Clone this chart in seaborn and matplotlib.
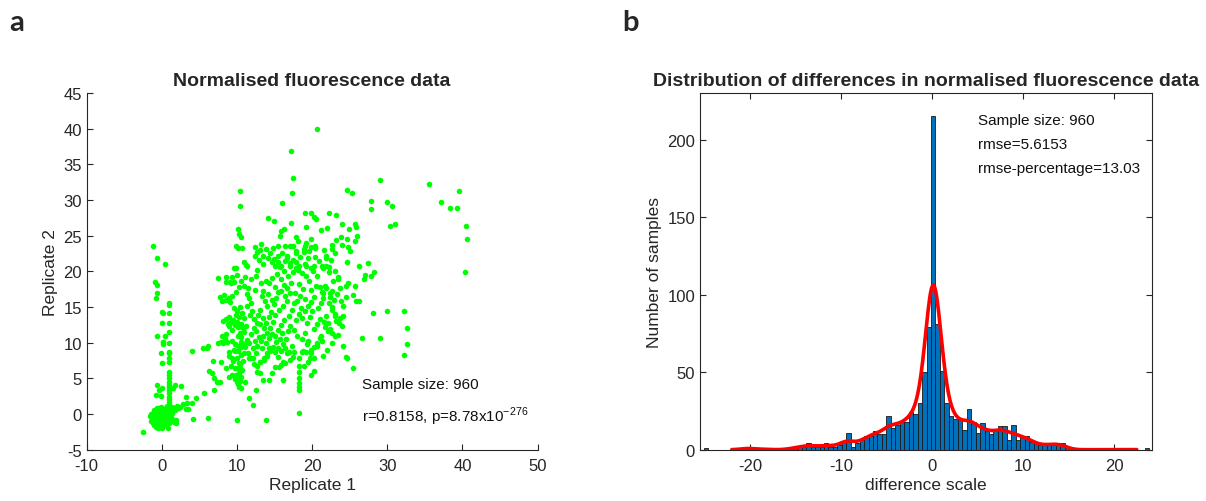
import numpy as np
import pandas as pd
import matplotlib
matplotlib.use('Agg')
import matplotlib.pyplot as plt
import seaborn as sns

# %% Data
# panel a: replicate 1 vs replicate 2
rep1 = [
    # outliers / upper part
    20.6, 17.2, 17.4, 17.3, 10.4, 10.4, 16.0, 29.1, 35.6, 39.6, 37.2, 38.3, 39.3, 40.5, 40.6, 40.3,
    24.7, 25.3, 27.9, 27.9, 30.0, 30.6, 30.4, 31.0, 19.0, 19.8, 20.2, 20.5, 22.3, 23.2, 14.1, 14.9,
    17.2, 16.2, 15.8, 19.2, 21.2, 22.0, 24.0, 25.7, 25.8, 24.9, 26.0, 23.9, 24.6, 25.7, 10.2, 10.3,
    10.6, 15.7, 17.9, 18.1, 19.2, 19.8, 20.4, 19.9, 19.1, 22.6, 23.2, 24.0, 24.8, 25.1, 24.7, 22.7,
    23.1, 21.8, 20.4, 18.9, 17.8, 17.1, 17.5, 16.4, 15.5, 14.8, 13.2, 13.1, 12.4, 12.6, 13.5, 9.9,
    10.2, 10.7, 11.0, 11.2, 9.9, 10.0, 9.3, 8.5, 7.5, 9.6, 9.1, 9.6, 12.4, 14.1, 14.7, 15.4,
    15.0, 15.9, 16.4, 16.7, 17.1, 17.9, 18.3, 19.2, 19.8, 20.3, 21.3, 21.9, 22.2, 23.5, 24.5, 24.8,
    26.3, 27.1, 26.9, 27.8, 28.3, 27.4, 25.7, 25.5, 25.9, 26.3, 24.5, 24.1, 28.1, 30.0, 32.2, 32.6,
    32.6, 32.2, 29.1, 26.6, 25.5, 24.5, 24.6, 24.1, 22.7, 23.7, 24.1, 23.2, 23.1, 22.7, 22.2, 22.4,
    22.7, 21.9, 21.7, 21.3, 21.5, 21.9, 21.6, 22.1, 22.7, 23.1, 21.2, 21.0, 20.7, 20.2, 19.9, 19.7,
    20.2, 20.2, 19.8, 19.2, 18.9, 18.7, 18.2, 18.2, 18.2, 18.2, 18.2, 18.2, 18.2, 18.3, 17.5, 17.6,
    16.9, 16.1, 16.1, 15.6, 15.0, 14.7, 14.3, 13.5, 13.1, 12.6, 12.5, 12.1, 11.6, 11.1, 10.3, 10.0,
    10.3, 9.9, 9.8, 10.4, 10.3, 10.0, 9.4, 9.0, 8.5, 8.9, 9.8, 10.1, 10.5, 11.1, 11.6, 12.1,
    12.5, 13.0, 13.6, 14.0, 14.3, 15.0, 15.4, 15.9, 16.4, 13.8, 10.0, 6.3, 7.0, 7.4, 7.8, 6.7,
    6.0, 6.2, 5.5, 6.8, 7.9, 4.0, 6.2, 4.2, 7.0, 5.6, 4.6, 4.0, 3.4, 3.2, 2.8, 2.6,
    1.8, 1.5, 2.0, 2.4, 3.2, 3.5, 1.9, 1.9,
    # dense cluster around x = 8-13
    9.2, 9.5, 9.0, 9.3, 8.8, 8.6, 9.7, 10.0, 10.2, 10.5, 10.8, 10.4, 10.1, 10.6, 10.9, 11.2,
    11.0, 10.3, 10.7, 10.0, 10.4, 9.6, 9.1, 8.9, 9.4, 8.6, 8.3, 8.0, 7.7, 9.9, 10.3, 10.9,
    11.3, 11.6, 11.9, 11.4, 12.0, 11.7, 12.3, 12.6, 12.2, 11.8, 12.5, 11.3, 11.0, 10.5, 10.2, 10.6,
    11.0, 10.8, 10.4, 10.1, 10.7, 10.3, 10.6, 10.0, 10.4, 10.2, 10.5, 9.7, 9.4, 9.2, 9.5, 9.0,
    9.6, 9.8, 9.3, 8.7, 8.2, 7.9, 7.5, 8.4, 8.0, 8.5, 8.1, 8.9, 9.9, 8.6, 9.2, 10.5,
    11.5, 12.4, 11.1, 11.8, 12.5, 11.3, 12.6,
    # dense cluster around x = 12-17
    12.8, 13.1, 13.4, 13.0, 13.6, 13.9, 14.2, 14.5, 14.0, 13.7, 13.3, 13.5, 14.1, 14.6, 14.9, 15.2,
    15.5, 15.0, 14.3, 13.8, 13.2, 14.7, 15.3, 15.8, 16.2, 15.9, 16.4, 16.7, 16.1, 15.6, 15.1, 14.8,
    14.4, 14.0, 13.5, 13.2, 12.9, 12.7, 13.3, 13.8, 14.2, 14.6, 15.0, 15.4, 15.8, 16.3, 16.0, 15.7,
    15.2, 14.8, 14.4, 14.0, 13.6, 13.1, 12.6, 12.2, 11.8, 11.5, 12.1, 11.6, 12.4, 15.5, 16.1, 16.5,
    16.8, 17.1, 16.9, 17.3, 17.6, 17.0, 16.6, 17.2, 16.8, 16.3, 15.7, 17.5, 17.8,
    # dense cluster around x = 17-24
    17.9, 18.2, 18.5, 18.0, 18.4, 18.8, 18.3, 17.7, 19.1, 19.4, 19.0, 18.7, 19.3, 19.7, 20.0, 19.8,
    20.3, 19.9, 20.5, 19.6, 19.2, 18.6, 18.1, 19.0, 19.5, 20.1, 20.6, 18.4, 17.8, 18.9, 19.6, 20.4,
    17.4, 17.0, 16.6, 16.0, 15.4, 14.9, 14.4, 13.9, 13.5, 12.9, 17.6, 18.0, 18.6, 19.1, 19.5, 20.2,
    20.6, 21.0, 20.8, 21.2, 21.5, 21.0, 20.9, 21.4, 21.8, 22.2, 21.6, 22.5, 23.0, 22.8, 23.4, 23.7,
    22.4, 22.9, 23.3, 23.8, 22.6, 23.1, 23.6, 22.1, 22.4, 21.7, 21.3, 20.7, 19.9, 19.3, 18.8, 17.3,
    16.7, 17.0, 16.4, 15.8, 19.5, 21.5, 22.0, 23.5, 24.0,
    # cluster near the origin
    -1.5, -1.3, -1.2, -1.0, -1.1, -0.9, -0.8, -0.7, -0.6, -0.5, -0.4, -0.3, -0.2, -0.1, 0.0, 0.0,
    0.1, 0.2, 0.3, 0.4, 0.5, 0.6, 0.7, 0.8, 0.9, 1.0, 1.1, 1.2, 1.3, 1.4, -1.4, -1.2,
    -0.9, -0.8, -0.6, -0.5, -0.4, -0.2, -0.1, 0.1, 0.2, 0.3, 0.4, 0.5, 0.6, 0.7, 0.8, 0.9,
    1.0, 1.1, -1.6, -1.0, -0.3, 0.0, 0.3, -0.7, 0.6, -0.2, 1.2, 0.9, -2.5, 1.6, 1.6, 0.8,
    -0.5, 1.5, 1.8, 2.2,
    # vertical strips at x ~ -1, 0 and 1
    0.9, 0.9, 0.9, 0.9, 0.9, 0.9, 0.9, 0.9, 0.9, 0.9, 0.9, 0.9, 0.9, 0.9, 0.9, 0.9,
    0.9, 0.9, 0.9, 0.9, 0.9, 0.0, 0.1, 0.0, 0.1, 0.0, 0.0, 0.2, -0.1, -1.2, -0.6, 0.4,
    -0.9, -0.6, -0.6, -0.8, -0.6, -0.1, -0.6, -0.8, -0.4, 0.45, 0.15,
]
rep2 = [
    # outliers / upper part
    40.0, 36.9, 33.1, 31.0, 31.2, 29.1, 29.6, 32.8, 32.2, 31.3, 29.7, 28.9, 28.9, 26.3, 24.5, 19.9,
    31.4, 31.0, 29.8, 28.8, 29.7, 29.2, 26.4, 26.7, 28.2, 28.2, 27.6, 27.4, 28.2, 27.9, 27.5, 27.0,
    26.8, 26.0, 25.7, 26.2, 25.8, 26.1, 26.7, 26.6, 26.2, 26.0, 24.9, 24.8, 24.6, 24.3, 26.0, 25.3,
    24.8, 24.9, 24.8, 24.3, 24.0, 24.5, 23.6, 23.4, 23.5, 23.7, 24.4, 23.7, 23.4, 22.9, 21.3, 23.2,
    22.6, 22.2, 22.0, 22.7, 22.6, 23.6, 23.6, 23.6, 23.6, 23.3, 23.9, 23.0, 23.4, 22.7, 22.2, 23.6,
    23.3, 23.3, 21.3, 20.9, 20.5, 19.5, 19.2, 19.2, 19.1, 18.5, 18.5, 20.5, 22.2, 21.8, 21.3, 21.3,
    20.8, 20.8, 21.5, 22.1, 21.2, 21.3, 20.8, 20.8, 20.4, 20.8, 20.8, 20.8, 19.9, 19.2, 18.0, 18.3,
    20.8, 19.5, 18.9, 19.3, 19.9, 21.1, 17.9, 16.7, 15.8, 15.8, 16.4, 15.2, 14.2, 14.4, 14.4, 12.1,
    9.8, 8.3, 10.6, 10.7, 6.4, 8.0, 7.8, 9.5, 9.9, 13.4, 13.8, 13.0, 14.0, 15.0, 15.5, 16.4,
    17.3, 17.6, 18.0, 17.1, 16.2, 13.8, 12.9, 11.7, 11.3, 11.0, 11.0, 10.6, 9.9, 9.4, 8.5, 7.8,
    7.8, 6.1, 5.4, 8.7, 6.8, 8.7, 7.8, 6.8, 5.9, 5.0, 4.3, 3.8, 3.3, 0.1, 8.0, 8.7,
    8.7, 7.3, 4.8, 6.6, 6.6, 5.7, 4.7, 4.7, 5.7, 5.9, 3.3, 1.2, 2.2, 4.5, 3.8, 4.5,
    5.0, 5.5, 6.4, 6.4, 7.2, 7.8, 7.8, 5.2, 6.4, 8.7, 8.9, 9.6, 10.1, 9.4, 7.8, 7.8,
    8.5, 7.3, 7.8, 8.5, 9.3, 8.7, 8.0, 8.9, 9.3, -0.9, -0.9, 6.0, 5.0, 4.5, 4.5, 5.7,
    9.2, 9.5, 9.2, 7.5, 7.3, 8.8, -0.6, -0.7, 3.3, 2.9, 2.2, 1.6, 1.5, 2.4, 1.4, 3.9,
    4.0, 3.6, 1.1, 1.0, 0.7, 0.7, -0.9, -1.3,
    # dense cluster around x = 8-13
    12.9, 13.2, 12.3, 11.8, 12.6, 11.2, 12.5, 12.9, 12.2, 12.6, 12.0, 11.4, 11.0, 10.8, 11.5, 12.4,
    13.4, 13.6, 14.1, 14.5, 15.0, 14.8, 15.7, 16.3, 16.6, 16.0, 16.7, 15.9, 16.4, 17.1, 17.8, 17.9,
    16.8, 16.2, 15.6, 15.1, 14.4, 13.9, 13.3, 12.7, 12.0, 11.2, 11.7, 10.4, 9.8, 9.4, 8.8, 8.3,
    8.6, 7.5, 7.0, 6.5, 6.2, 5.8, 5.2, 5.0, 4.6, 4.2, 3.7, 4.9, 5.4, 6.8, 7.4, 8.2,
    9.0, 9.8, 10.3, 10.1, 9.9, 10.1, 10.0, 10.6, 11.0, 13.3, 13.0, 13.6, 13.9, 18.5, 18.4, 18.6,
    17.6, 17.4, 19.2, 18.9, 19.3, 20.7, 20.2,
    # dense cluster around x = 12-17
    13.9, 14.6, 13.5, 12.6, 12.0, 12.8, 13.6, 14.3, 15.1, 15.9, 16.5, 17.3, 16.8, 16.0, 15.4, 16.3,
    17.1, 17.8, 18.3, 18.7, 18.3, 19.0, 19.6, 18.9, 18.1, 17.3, 16.6, 15.8, 15.1, 14.6, 13.9, 12.9,
    12.1, 11.4, 10.9, 10.3, 10.8, 9.6, 9.2, 9.9, 10.6, 11.2, 11.0, 11.8, 12.5, 13.2, 11.3, 10.5,
    10.1, 9.4, 8.8, 8.1, 7.6, 7.3, 6.8, 7.0, 7.9, 8.5, 9.3, 10.0, 10.2, 9.2, 9.8, 10.5,
    11.6, 12.4, 13.8, 14.6, 15.5, 16.9, 17.7, 18.4, 19.3, 20.1, 20.6, 19.9, 20.4,
    # dense cluster around x = 17-24
    13.2, 14.0, 14.8, 15.9, 16.6, 17.5, 18.2, 17.0, 16.1, 15.2, 14.4, 13.5, 12.8, 13.6, 14.5, 15.7,
    16.4, 17.4, 18.0, 18.7, 19.4, 19.8, 20.2, 21.0, 21.8, 20.1, 19.3, 22.0, 22.8, 23.2, 22.9, 23.3,
    21.6, 20.7, 21.9, 22.6, 22.2, 21.7, 22.5, 23.1, 21.0, 21.6, 11.8, 11.0, 10.5, 11.3, 10.2, 11.9,
    12.6, 13.3, 14.9, 15.6, 16.9, 17.8, 21.5, 20.4, 21.9, 20.6, 23.0, 21.6, 20.0, 18.6, 18.9, 17.6,
    17.0, 16.0, 16.8, 15.9, 14.6, 13.8, 12.7, 12.8, 11.9, 12.2, 10.3, 9.6, 9.0, 9.8, 8.9, 9.6,
    8.6, 7.6, 7.2, 6.9, 7.3, 8.1, 9.0, 11.1, 12.4,
    # cluster near the origin
    -1.0, -0.5, 0.2, 0.6, -1.6, -1.2, -0.4, 0.3, 0.8, -0.9, -1.5, -0.2, 0.5, 1.0, -0.6, -2.0,
    -1.3, 0.1, 0.7, -0.3, -1.0, 0.4, 1.1, -0.5, 0.2, 0.8, -0.2, 0.5, 1.0, 0.2, 0.0, -1.2,
    0.1, -1.8, -0.1, 0.4, 0.9, -1.0, -0.4, 0.5, -0.8, -1.6, 0.3, 0.9, -0.6, -0.1, 0.6, 1.2,
    -0.8, 0.4, -0.3, -0.7, 0.2, 0.0, -0.2, -1.0, -1.3, -1.8, -0.4, -1.2, -2.5, -1.1, -0.8, -2.0,
    -1.9, 0.8, 0.6, 0.9,
    # vertical strips at x ~ -1, 0 and 1
    15.6, 15.3, 14.1, 12.7, 11.5, 9.9, 8.7, 8.5, 7.8, 7.3, 5.9, 5.4, 5.0, 4.5, 4.0, 3.8,
    3.3, 2.9, 2.4, 2.1, 1.7, 14.3, 14.1, 12.7, 10.1, 7.2, 3.6, 9.8, 2.5, 23.6, 21.9, 21.0,
    18.5, 18.1, 16.9, 16.3, 11.0, 8.5, 4.0, 2.6, 3.4, 11.0, 10.1,
]

# panel b: histogram of differences (100 bins), counts
hist_lo = -25.1
bin_width = 0.49
counts = [
    1, 0, 0, 0, 0, 0, 0, 0, 0, 2, 1, 0, 0, 1, 0, 0, 0, 0, 0, 1,
    1, 2, 2, 4, 2, 2, 2, 4, 2, 2, 3, 5, 11, 2, 4, 6, 9, 9, 12, 10,
    10, 22, 14, 16, 18, 18, 24, 23, 30, 50, 79, 215, 81, 51, 30, 22, 20, 20, 13, 26,
    18, 11, 17, 12, 10, 12, 15, 15, 6, 16, 6, 9, 9, 5, 4, 3, 3, 3, 4, 4,
    4, 1, 0, 0, 0, 0, 0, 0, 0, 0, 0, 0, 0, 0, 0, 0, 0, 0, 0, 1,
]
kde_bw = 0.72
kde_range = (-22.0, 22.5)

# %% Plot
sns.set_style('ticks')
plt.rcParams['font.family'] = ['Liberation Sans', 'DejaVu Sans']
plt.rcParams['axes.unicode_minus'] = False
plt.rcParams['xtick.direction'] = 'in'
plt.rcParams['ytick.direction'] = 'in'
grey = '#262626'

fig = plt.figure(figsize=(12.06, 5.02), dpi=100)
ax1 = fig.add_axes([0.0719, 0.1022, 0.3738, 0.7106])
ax2 = fig.add_axes([0.5804, 0.1022, 0.3750, 0.7106])

# scatter
sns.scatterplot(x=rep1, y=rep2, ax=ax1, color='#00ff00', s=16, linewidth=0, legend=False)
ax1.set_xlim(-10, 50)
ax1.set_ylim(-5, 45)
ax1.set_xticks(range(-10, 51, 10))
ax1.set_yticks(range(-5, 46, 5))
sns.despine(ax=ax1)
ax1.set_xlabel('Replicate 1', fontsize=12.5, color=grey, labelpad=3)
ax1.set_ylabel('Replicate 2', fontsize=12.5, color=grey)
ax1.set_title('Normalised fluorescence data', fontsize=14, fontweight='bold', pad=6)
ax1.text(26.7, 4.2, 'Sample size: 960', fontsize=11, va='center', color='#111111')
ax1.text(26.7, -0.3, r'r=0.8158, p=8.78x10$^{\mathregular{-276}}$', fontsize=11,
         va='center', color='#111111')

# histogram
n_bins = len(counts)
centers = hist_lo + bin_width * (np.arange(n_bins) + 0.5)
hist_df = pd.DataFrame({'diff': centers, 'count': counts})
sns.histplot(data=hist_df, x='diff', weights='count', bins=n_bins,
             binrange=(hist_lo, hist_lo + n_bins * bin_width), ax=ax2, color='#0072BD',
             alpha=1, edgecolor='#1a1a1a', linewidth=0.6)

# smoothed density scaled to counts
grid = np.linspace(kde_range[0], kde_range[1], 500)
cnt = np.array(counts, dtype=float)
dens = (cnt[None, :] * np.exp(-0.5 * ((grid[:, None] - centers[None, :]) / kde_bw) ** 2)).sum(axis=1)
dens = dens * bin_width / (kde_bw * np.sqrt(2 * np.pi))
sns.lineplot(x=grid, y=dens, ax=ax2, color='#ff0000', linewidth=2.6, estimator=None, sort=False)

ax2.set_xlim(-25.5, 24.2)
ax2.set_ylim(0, 230)
ax2.set_xticks([-20, -10, 0, 10, 20])
ax2.set_yticks([0, 50, 100, 150, 200])
ax2.tick_params(top=True, right=True)
ax2.set_xlabel('difference scale', fontsize=12.5, color=grey, labelpad=3)
ax2.set_ylabel('Number of samples', fontsize=12.5, color=grey)
ax2.set_title('Distribution of differences in normalised fluorescence data', fontsize=14,
              fontweight='bold', pad=6)
ax2.text(5.0, 212.5, 'Sample size: 960', fontsize=11, va='center', color='#111111')
ax2.text(5.0, 197.0, 'rmse=5.6153', fontsize=11, va='center', color='#111111')
ax2.text(5.0, 181.5, 'rmse-percentage=13.03', fontsize=11, va='center', color='#111111')

for ax in (ax1, ax2):
    ax.tick_params(labelsize=12, colors=grey, length=4, width=0.8)
    ax.tick_params(axis='x', pad=6)
    for sp in ax.spines.values():
        sp.set_color(grey)
        sp.set_linewidth(0.8)

fig.text(0.008, 0.955, 'a', fontsize=21, fontweight='bold', family=['Lato', 'DejaVu Sans'],
         va='center')
fig.text(0.516, 0.955, 'b', fontsize=21, fontweight='bold', family=['Lato', 'DejaVu Sans'],
         va='center')

plt.savefig('out.png', dpi=100)
plt.close()
